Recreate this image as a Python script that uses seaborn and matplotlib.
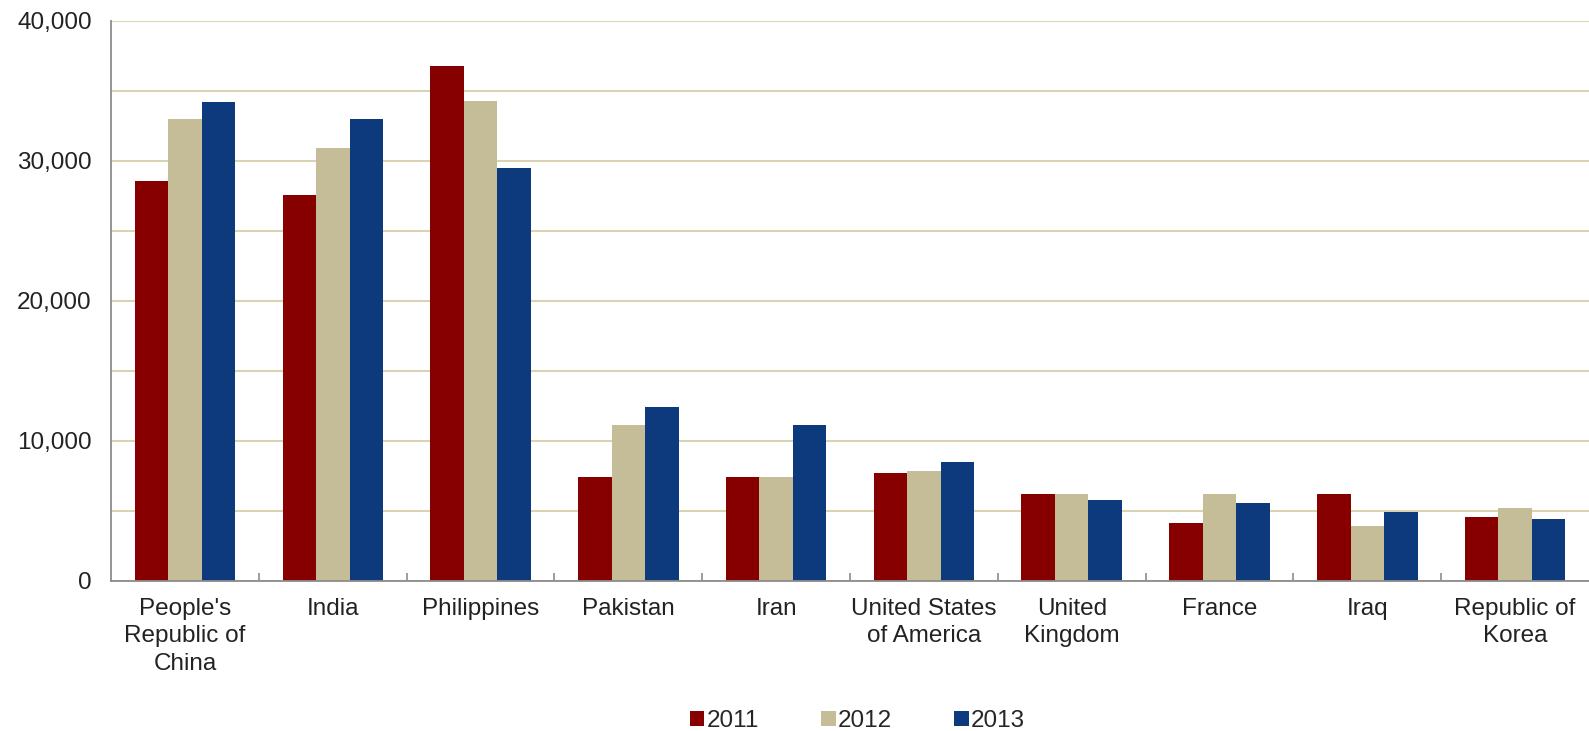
import matplotlib
matplotlib.use("Agg")
import matplotlib.pyplot as plt
import seaborn as sns
import pandas as pd
from matplotlib.ticker import FuncFormatter, MultipleLocator, FixedLocator

countries = ["People's\nRepublic of\nChina", "India", "Philippines", "Pakistan", "Iran",
             "United States\nof America", "United\nKingdom", "France", "Iraq", "Republic of\nKorea"]
years = ["2011", "2012", "2013"]
v2011 = [28550, 27600, 36800, 7460, 7460, 7690, 6190, 4120, 6190, 4600]
v2012 = [33000, 30900, 34300, 11160, 7460, 7860, 6190, 6190, 3950, 5240]
v2013 = [34200, 33000, 29500, 12460, 11160, 8500, 5760, 5600, 4950, 4450]
colors = ["#870000", "#C4BD97", "#0D3A7C"]

rows = []
for yr, vals in zip(years, [v2011, v2012, v2013]):
    for c, v in zip(countries, vals):
        rows.append({"country": c, "year": yr, "value": v})
df = pd.DataFrame(rows)

sns.set_theme(style="white")
plt.rcParams['font.family'] = ['Liberation Sans', 'DejaVu Sans']

fig = plt.figure(figsize=(15.89, 7.31), dpi=100)
ax = fig.add_axes([0.0699, 0.2052, 0.9301, 0.7661])

sns.barplot(data=df, x="country", y="value", hue="year", palette=colors,
            saturation=1, width=0.68, ax=ax, legend=True, linewidth=0)

ax.set_ylim(0, 40000)
ax.set_xlim(-0.5, len(countries) - 0.5)
ax.yaxis.set_major_locator(MultipleLocator(10000))
ax.yaxis.set_minor_locator(MultipleLocator(5000))
ax.yaxis.set_major_formatter(FuncFormatter(lambda v, p: f"{int(v):,}"))
ax.grid(True, axis="y", which="both", color="#D9D3B3", linewidth=1.5)
ax.set_axisbelow(True)
ax.set_xlabel("")
ax.set_ylabel("")

for s in ["top", "right"]:
    ax.spines[s].set_visible(False)
for s in ["left", "bottom"]:
    ax.spines[s].set_color("#8C8C8C")
    ax.spines[s].set_linewidth(1.3)

ax.tick_params(axis="y", which="both", length=0, pad=14, labelsize=17.5, labelcolor="#222222")
ax.tick_params(axis="x", which="major", bottom=False, length=0, pad=12, labelsize=17.5, labelcolor="#222222")
for t in ax.get_xticklabels():
    t.set_linespacing(1.32)
ax.xaxis.set_minor_locator(FixedLocator([i + 0.5 for i in range(len(countries) - 1)]))
ax.tick_params(axis="x", which="minor", bottom=True, direction="in", length=6, color="#8C8C8C", width=1.2)

handles, labels = ax.get_legend_handles_labels()
ax.legend(handles, labels, loc="center", bbox_to_anchor=(0.505, -0.25),
          ncol=3, frameon=False, fontsize=17.5, handlelength=0.6, handleheight=0.6,
          handletextpad=0.1, columnspacing=2.55)

fig.savefig("out.png", dpi=100, facecolor="white")
